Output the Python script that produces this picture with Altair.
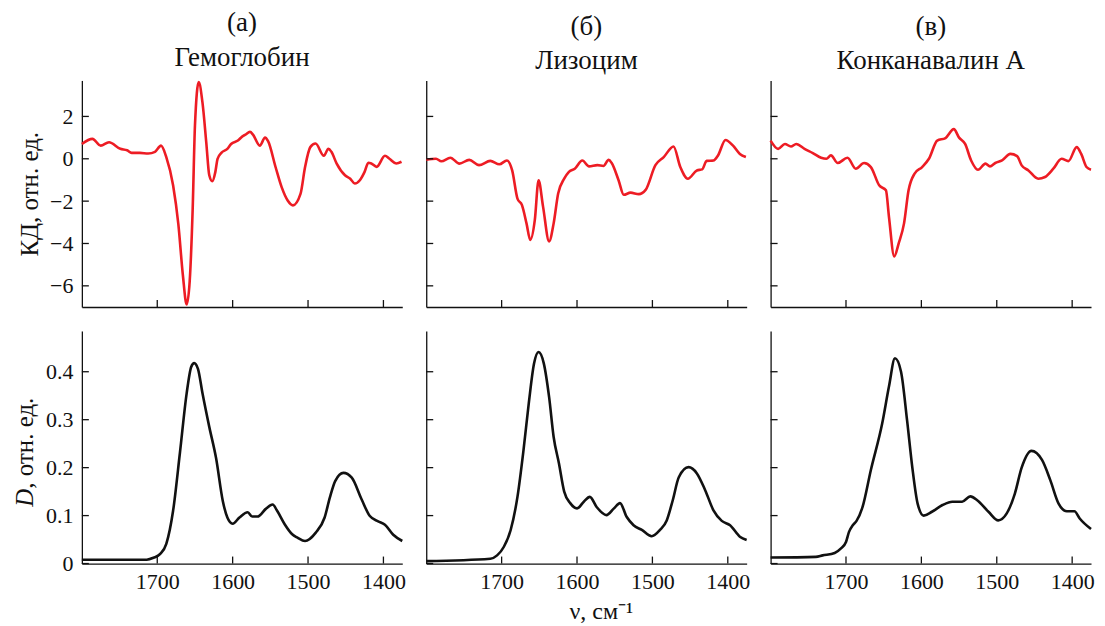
import altair as alt
import pandas as pd

FONT = "Liberation Serif"
RED = "#ed1c24"
BLACK = "#111111"

# ---------------- data ----------------
# (a) Гемоглобин, CD
A_CD_NU = [1800, 1786, 1775, 1764, 1749, 1740, 1734, 1723, 1712, 1703,
           1695, 1688, 1679, 1672, 1666, 1661, 1657, 1653, 1650, 1645,
           1640, 1635, 1631, 1627, 1623, 1620, 1615, 1607, 1602, 1593,
           1587, 1583, 1577, 1573, 1564, 1557, 1553, 1543, 1535, 1527,
           1520, 1510, 1504, 1497, 1490, 1479, 1473, 1469, 1462, 1451,
           1444, 1438, 1431, 1425, 1420, 1416, 1409, 1398, 1392, 1383,
           1376]
A_CD = [0.70, 0.94, 0.62, 0.78, 0.47, 0.40, 0.28, 0.28, 0.25, 0.33,
        0.62, 0.08, -1.25, -3.1, -5.5, -6.88, -5.8, -2.35, 1.56, 3.62,
        2.65, 0.78, -0.78, -1.06, -0.63, 0.0, 0.28, 0.47, 0.70, 0.86,
        1.06, 1.14, 1.27, 1.14, 0.62, 1.0, 0.83, -0.4, -1.34, -1.97,
        -2.2, -1.66, -0.4, 0.55, 0.72, 0.14, 0.47, 0.33, -0.23, -0.78,
        -0.94, -1.17, -1.0, -0.62, -0.19, -0.22, -0.38, 0.14, 0.0, -0.22,
        -0.14]
# (a) absorbance D
A_D_NU = [1800, 1714, 1705, 1696, 1688, 1679, 1670, 1661, 1655, 1651,
          1646, 1640, 1631, 1622, 1613, 1607, 1600, 1591, 1580, 1574,
          1567, 1556, 1547, 1541, 1531, 1521, 1514, 1504, 1490, 1478,
          1471, 1464, 1453, 1442, 1429, 1418, 1407, 1398, 1387, 1375]
A_D = [0.008, 0.008, 0.012, 0.02, 0.041, 0.11, 0.23, 0.355, 0.41, 0.418,
       0.406, 0.355, 0.285, 0.22, 0.13, 0.096, 0.083, 0.096, 0.107, 0.098,
       0.098, 0.114, 0.123, 0.11, 0.082, 0.061, 0.054, 0.047, 0.064, 0.096,
       0.138, 0.172, 0.189, 0.179, 0.134, 0.099, 0.088, 0.081, 0.06, 0.047]

# (б) Лизоцим, CD
B_CD_NU = [1800, 1787, 1780, 1768, 1756, 1743, 1730, 1715, 1703, 1693,
           1686, 1679, 1673, 1667, 1662, 1656, 1651, 1645, 1637, 1631,
           1625, 1617, 1611, 1603, 1593, 1584, 1573, 1565, 1558, 1554,
           1545, 1538, 1529, 1518, 1509, 1496, 1485, 1472, 1463, 1453,
           1441, 1434, 1428, 1419, 1413, 1403, 1393, 1384, 1376]
B_CD = [-0.05, 0.0, -0.12, 0.05, -0.23, -0.05, -0.3, -0.1, -0.26, -0.08,
        -0.55, -1.88, -2.19, -3.05, -3.83, -2.9, -1.02, -2.27, -3.9, -3.05,
        -1.64, -0.94, -0.63, -0.47, -0.08, -0.36, -0.3, -0.34, -0.05, -0.2,
        -1.0, -1.7, -1.6, -1.67, -1.47, -0.3, 0.08, 0.58, -0.39, -0.94,
        -0.55, -0.5, -0.1, -0.08, 0.16, 0.89, 0.62, 0.23, 0.08]
# (б) absorbance D
B_D_NU = [1800, 1715, 1706, 1697, 1688, 1679, 1671, 1664, 1657, 1651,
          1644, 1637, 1631, 1624, 1617, 1609, 1600, 1591, 1583, 1574,
          1561, 1551, 1543, 1534, 1525, 1514, 1501, 1490, 1481, 1473,
          1465, 1452, 1441, 1430, 1419, 1408, 1397, 1384, 1375]
B_D = [0.005, 0.01, 0.017, 0.035, 0.07, 0.139, 0.236, 0.334, 0.417, 0.441,
       0.417, 0.347, 0.264, 0.209, 0.15, 0.126, 0.115, 0.129, 0.139, 0.118,
       0.101, 0.115, 0.126, 0.097, 0.08, 0.07, 0.057, 0.07, 0.09, 0.132,
       0.18, 0.201, 0.188, 0.153, 0.111, 0.089, 0.08, 0.056, 0.049]

# (в) Конканавалин А, CD
C_CD_NU = [1800, 1790, 1781, 1773, 1766, 1755, 1744, 1733, 1726, 1720,
           1711, 1698, 1687, 1676, 1667, 1656, 1647, 1643, 1636, 1630,
           1623, 1617, 1609, 1599, 1590, 1579, 1568, 1557, 1550, 1542,
           1534, 1525, 1515, 1509, 1502, 1493, 1482, 1473, 1467, 1458,
           1445, 1436, 1425, 1414, 1405, 1394, 1388, 1381, 1375]
C_CD = [0.86, 0.47, 0.7, 0.58, 0.7, 0.47, 0.27, 0.05, 0.0, 0.16,
        -0.2, 0.05, -0.47, -0.2, -0.39, -1.25, -1.49, -2.74, -4.61, -3.98,
        -3.05, -1.49, -0.7, -0.39, 0.0, 0.86, 0.98, 1.4, 1.0, 0.7,
        -0.08, -0.52, -0.23, -0.36, -0.2, -0.08, 0.23, 0.125, -0.31, -0.55,
        -0.94, -0.86, -0.47, 0.0, -0.11, 0.55, 0.23, -0.39, -0.52]
# (в) absorbance D
C_D_NU = [1800, 1740, 1731, 1715, 1707, 1700, 1696, 1691, 1686, 1678,
          1667, 1652, 1643, 1635, 1627, 1619, 1612, 1605, 1597, 1586,
          1572, 1559, 1546, 1535, 1526, 1511, 1498, 1487, 1476, 1467,
          1454, 1440, 1429, 1418, 1407, 1397, 1390, 1375]
C_D = [0.0125, 0.014, 0.017, 0.022, 0.031, 0.045, 0.066, 0.08, 0.089, 0.118,
       0.195, 0.292, 0.369, 0.428, 0.4, 0.299, 0.2, 0.125, 0.1, 0.108,
       0.122, 0.129, 0.129, 0.14, 0.132, 0.108, 0.09, 0.104, 0.146, 0.2,
       0.235, 0.216, 0.174, 0.125, 0.109, 0.109, 0.094, 0.072]

PANEL_LABELS = ["(а)", "(б)", "(в)"]
PROTEINS = ["Гемоглобин", "Лизоцим", "Конканавалин А"]

X_DOMAIN = [1375, 1800]
X_TICKS = [1700, 1600, 1500, 1400]
CD_DOMAIN = [-7, 3.7]
CD_TICKS = [-6, -4, -2, 0, 2]
D_DOMAIN = [0, 0.485]
D_TICKS = [0, 0.1, 0.2, 0.3, 0.4]

CD_TITLE = "КД, отн. ед."
D_TITLE_ITALIC = "D"
D_TITLE_REST = ", отн. ед."
X_TITLE = "ν, см⁻¹"

# ---------------- layout constants ----------------
W = 321
H_TOP = 227
H_BOT = 233
TICK = 7
FS = 22      # tick labels
TFS = 27     # column titles
YFS = 25     # y axis titles
XFS = 24     # x axis title


def panel(nu, vals, color, ydom, yticks, yfmt, height, first_col, bottom_row,
          ytitle=None, title=None, subtitle=None, xtitle=None):
    df = pd.DataFrame({"nu": nu, "v": vals})
    xscale = alt.Scale(domain=X_DOMAIN, reverse=True, nice=False, zero=False)
    yscale = alt.Scale(domain=ydom, nice=False, zero=False)

    xaxis_kw = dict(values=X_TICKS, ticks=False, grid=False, domain=True,
                    domainColor=BLACK, domainWidth=1.3, labels=bottom_row,
                    labelFont=FONT, labelFontSize=FS, labelColor=BLACK,
                    labelPadding=8, format="d", minExtent=0)
    if xtitle:
        xaxis_kw.update(titleFont=FONT, titleFontSize=XFS,
                        titleFontWeight="normal", titleColor=BLACK,
                        titleX=175, titleY=55, titleAlign="center",
                        titleBaseline="alphabetic")
    yaxis_kw = dict(values=yticks, ticks=False, grid=False, domain=True,
                    domainColor=BLACK, domainWidth=1.3, labels=first_col,
                    labelFont=FONT, labelFontSize=FS, labelColor=BLACK,
                    labelPadding=9, format=yfmt, minExtent=0)
    if ytitle:
        yaxis_kw.update(titleFont=FONT, titleFontSize=YFS,
                        titleFontWeight="normal", titleColor=BLACK,
                        titlePadding=7)

    line = alt.Chart(df).mark_line(color=color, strokeWidth=2.6,
                                   interpolate="monotone").encode(
        x=alt.X("nu:Q", scale=xscale, axis=alt.Axis(**xaxis_kw), title=xtitle),
        y=alt.Y("v:Q", scale=yscale, axis=alt.Axis(**yaxis_kw), title=ytitle),
    )
    xt = alt.Chart(pd.DataFrame({"t": X_TICKS})).mark_rule(
        color=BLACK, strokeWidth=1.3).encode(
        x=alt.X("t:Q", scale=xscale, title=xtitle),
        y=alt.value(height), y2=alt.value(height - TICK))
    yt = alt.Chart(pd.DataFrame({"t": yticks})).mark_rule(
        color=BLACK, strokeWidth=1.3).encode(
        y=alt.Y("t:Q", scale=yscale, title=ytitle),
        x=alt.value(0), x2=alt.value(TICK))
    layers = [line, xt, yt]
    if first_col and bottom_row:
        # y title "D, отн. ед." with italic D
        d1 = alt.Chart(pd.DataFrame({"s": [D_TITLE_ITALIC]})).mark_text(
            font=FONT, fontSize=YFS, fontStyle="italic", angle=270,
            align="left", baseline="middle", color=BLACK).encode(
            text="s:N", x=alt.value(-57), y=alt.value(176))
        d2 = alt.Chart(pd.DataFrame({"s": [D_TITLE_REST]})).mark_text(
            font=FONT, fontSize=YFS, angle=270,
            align="left", baseline="middle", color=BLACK).encode(
            text="s:N", x=alt.value(-57), y=alt.value(158))
        layers += [d1, d2]
    props = dict(width=W, height=height)
    if title:
        props["title"] = alt.TitleParams(
            text=title, subtitle=subtitle, font=FONT, fontSize=TFS,
            fontWeight="normal", color=BLACK,
            subtitleFont=FONT, subtitleFontSize=TFS, subtitleColor=BLACK,
            subtitlePadding=8, offset=5, anchor="middle")
    return alt.layer(*layers).properties(**props)


cd_data = [(A_CD_NU, A_CD), (B_CD_NU, B_CD), (C_CD_NU, C_CD)]
d_data = [(A_D_NU, A_D), (B_D_NU, B_D), (C_D_NU, C_D)]

top = []
bot = []
for i in range(3):
    top.append(panel(cd_data[i][0], cd_data[i][1], RED, CD_DOMAIN, CD_TICKS, "d",
                     H_TOP, i == 0, False,
                     ytitle=CD_TITLE if i == 0 else None,
                     title=PANEL_LABELS[i], subtitle=PROTEINS[i]))
    bot.append(panel(d_data[i][0], d_data[i][1], BLACK, D_DOMAIN, D_TICKS, ".1~f",
                     H_BOT, i == 0, True,
                     xtitle=X_TITLE if i == 1 else None))

chart = alt.concat(*top, *bot, columns=3, bounds="flush",
                   spacing={"row": 24, "column": 24}).properties(
    padding={"left": 5, "top": 0, "right": 0, "bottom": 0},
    background="white",
).configure_view(stroke=None)

chart.save("out.html", embed_options={"renderer": "svg", "actions": False})
